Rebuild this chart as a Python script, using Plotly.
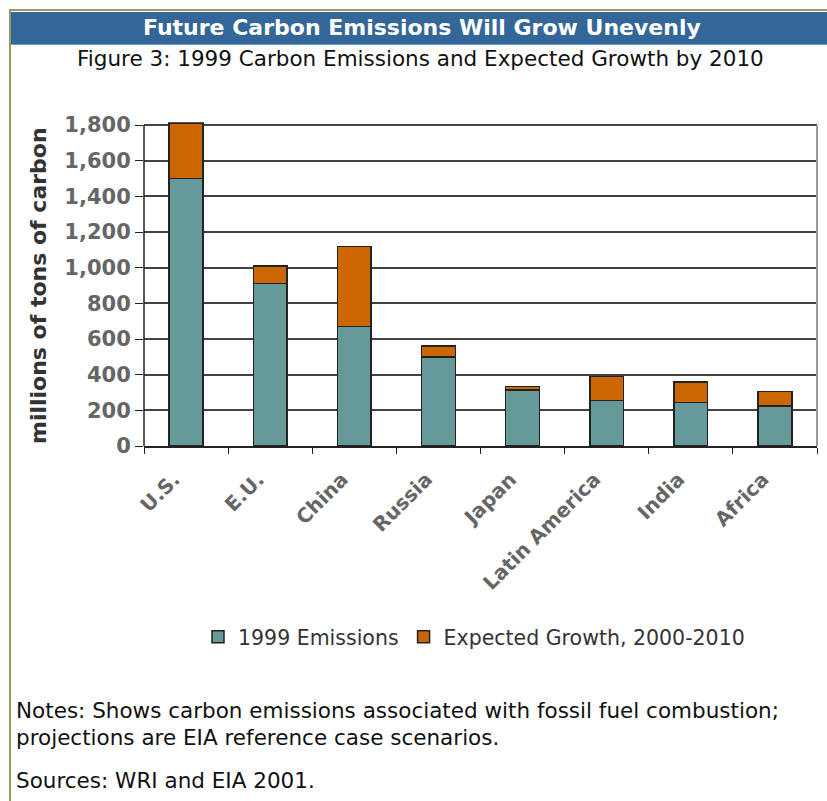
import plotly.graph_objects as go

# Regions and carbon emissions (millions of tons of carbon)
regions = ["U.S.", "E.U.", "China", "Russia", "Japan", "Latin America", "India", "Africa"]
emissions_1999 = [1500, 910, 670, 500, 315, 255, 245, 225]
growth_2000_2010 = [310, 100, 450, 60, 20, 135, 115, 80]
y_ticks = [0, 200, 400, 600, 800, 1000, 1200, 1400, 1600, 1800]

W, H = 827, 801


def px(x):
    return x / W


def py(y):
    return 1 - y / H


FONT = "DejaVu Sans"

# value axis: 0 sits at y=446, 1800 at y=125; a little headroom above 1800
Y0, Y1800 = 446, 125
Y_MAX = 1815
y_top = Y0 - Y_MAX * (Y0 - Y1800) / 1800

fig = go.Figure()
fig.add_trace(go.Bar(
    x=regions, y=emissions_1999, name="1999 Emissions",
    marker=dict(color="#669999", line=dict(color="#222222", width=1.5)),
))
fig.add_trace(go.Bar(
    x=regions, y=growth_2000_2010, name="Expected Growth, 2000-2010",
    marker=dict(color="#cc6600", line=dict(color="#222222", width=1.5)),
))

fig.update_layout(
    width=W, height=H,
    margin=dict(l=0, r=0, t=0, b=0),
    paper_bgcolor="white", plot_bgcolor="white",
    barmode="stack", bargap=0.6,
    font=dict(family=FONT, color="#333333"),
    showlegend=True,
    legend=dict(
        orientation="h", traceorder="normal",
        x=px(474), xanchor="center", y=py(637), yanchor="middle",
        font=dict(family=FONT, size=20.5, color="#333333"),
        tracegroupgap=0,
    ),
    xaxis=dict(
        domain=[px(144), px(817)], automargin=False,
        tickson="boundaries", ticks="outside", ticklen=6, tickcolor="#222222",
        showgrid=False, showline=True, linecolor="#222222", linewidth=1.5,
        tickangle=-45, ticklabelstandoff=12, ticklabelshift=-12,
        tickfont=dict(family=FONT, size=20, color="#666666", weight="bold"),
    ),
    yaxis=dict(
        domain=[py(Y0), py(y_top)], automargin=False,
        range=[0, Y_MAX], tickvals=y_ticks, tickformat=",",
        ticks="outside", ticklen=8, tickcolor="#222222",
        showgrid=True, gridcolor="#444444", gridwidth=1.5,
        showline=False,
        tickfont=dict(family=FONT, size=21, color="#666666", weight="bold"),
        zeroline=False,
    ),
)

shapes = [
    # outer olive frame (top and left edges)
    dict(type="line", xref="paper", yref="paper", x0=px(9), x1=1, y0=py(10), y1=py(10),
         line=dict(color="#999966", width=2)),
    dict(type="line", xref="paper", yref="paper", x0=px(10), x1=px(10), y0=py(9), y1=0,
         line=dict(color="#999966", width=2)),
    # header banner
    dict(type="rect", xref="paper", yref="paper", x0=px(11), x1=1, y0=py(12), y1=py(44),
         fillcolor="#336699", line=dict(width=0), layer="below"),
    dict(type="line", xref="paper", yref="paper", x0=px(11), x1=1, y0=py(44.5), y1=py(44.5),
         line=dict(color="#6f9fd0", width=1)),
    # plot frame: top, right and left edges
    dict(type="line", xref="paper", yref="paper", x0=px(144), x1=px(817), y0=py(Y1800), y1=py(Y1800),
         line=dict(color="#999999", width=2), layer="below"),
    dict(type="line", xref="paper", yref="paper", x0=px(817), x1=px(817), y0=py(Y1800), y1=py(Y0),
         line=dict(color="#999999", width=2)),
    dict(type="line", xref="paper", yref="paper", x0=px(144), x1=px(144), y0=py(Y1800), y1=py(Y0),
         line=dict(color="#222222", width=1.5)),
]
fig.update_layout(shapes=shapes)

TEXT = dict(family=FONT, size=21.5, color="#111111")
annotations = [
    dict(text="<b>Future Carbon Emissions Will Grow Unevenly</b>", x=px(422), y=py(28),
         font=dict(family=FONT, size=22, color="white")),
    dict(text="Figure 3: 1999 Carbon Emissions and Expected Growth by 2010", x=px(421), y=py(59),
         font=TEXT),
    dict(text="<b>millions of tons of carbon</b>", x=px(38), y=py(286), textangle=-90,
         font=dict(family=FONT, size=22, color="#333333")),
    dict(text="Notes: Shows carbon emissions associated with fossil fuel combustion;",
         x=px(14), y=py(710), xanchor="left", font=TEXT),
    dict(text="projections are EIA reference case scenarios.",
         x=px(14), y=py(737), xanchor="left", font=TEXT),
    dict(text="Sources: WRI and EIA 2001.", x=px(14), y=py(780), xanchor="left", font=TEXT),
]
for a in annotations:
    a.setdefault("xanchor", "center")
    a.setdefault("yanchor", "middle")
    a.update(xref="paper", yref="paper", showarrow=False)
fig.update_layout(annotations=annotations)

fig.write_html("out.html")
